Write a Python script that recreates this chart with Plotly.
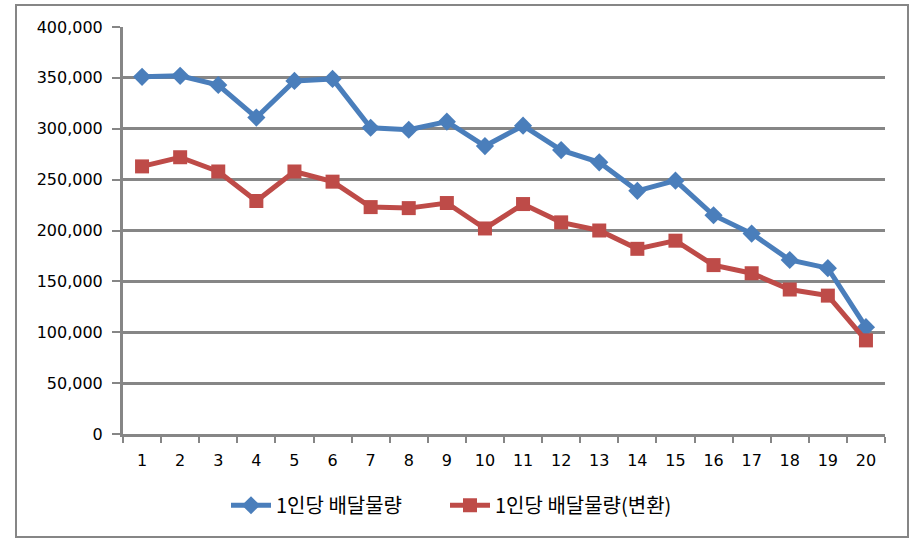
import plotly.graph_objects as go

categories = [str(i) for i in range(1, 21)]
series_a_name = "1인당 배달물량"
series_b_name = "1인당 배달물량(변환)"
series_a = [351000, 352000, 343000, 311000, 347000, 349000, 301000, 299000, 307000, 283000,
            303000, 279000, 267000, 239000, 249000, 215000, 197000, 171000, 163000, 105000]
series_b = [263000, 272000, 258000, 229000, 258000, 248000, 223000, 222000, 227000, 202000,
            226000, 208000, 200000, 182000, 190000, 166000, 158000, 142000, 136000, 92000]
y_ticks = [0, 50000, 100000, 150000, 200000, 250000, 300000, 350000, 400000]

fig = go.Figure()
fig.add_trace(go.Scatter(
    x=categories, y=series_a, name=series_a_name, mode="lines+markers",
    line=dict(color="#4A7EBB", width=5),
    marker=dict(symbol="diamond", size=14, color="#4A7EBB"),
    legend="legend",
))
fig.add_trace(go.Scatter(
    x=categories, y=series_b, name=series_b_name, mode="lines+markers",
    line=dict(color="#BE4B48", width=5),
    marker=dict(symbol="square", size=14, color="#BE4B48"),
    legend="legend2",
))

tick_font = dict(family="DejaVu Sans, sans-serif", size=16, color="#000000")
legend_font = dict(family="Noto Sans CJK KR, sans-serif", size=20, color="#000000")

fig.update_layout(
    width=920, height=553,
    margin=dict(l=123, r=35, t=27, b=119),
    paper_bgcolor="white", plot_bgcolor="white",
    showlegend=True,
    legend=dict(orientation="h", x=(226 - 123) / 762, xanchor="left", y=-0.175, yanchor="middle",
                font=legend_font, itemwidth=40),
    legend2=dict(orientation="h", x=(445 - 123) / 762, xanchor="left", y=-0.175, yanchor="middle",
                 font=legend_font, itemwidth=40),
    xaxis=dict(
        type="category", range=[-0.5, 19.5], showgrid=False,
        showline=True, linecolor="#868686", linewidth=3,
        ticks="outside", tickson="boundaries", ticklen=6, tickwidth=2, tickcolor="#868686",
        tickfont=tick_font, ticklabelstandoff=10,
    ),
    yaxis=dict(
        range=[0, 400000], tickvals=y_ticks, tickformat=",",
        showgrid=True, gridcolor="#868686", gridwidth=3,
        showline=True, linecolor="#868686", linewidth=3,
        ticks="outside", ticklen=8, tickwidth=2, tickcolor="#868686",
        tickfont=tick_font, zeroline=False, ticklabelstandoff=6,
    ),
    shapes=[dict(type="rect", xref="paper", yref="paper",
                 x0=(16 - 123) / 762, x1=(908 - 123) / 762,
                 y0=(434 - 537) / 407, y1=(434 - 5) / 407,
                 line=dict(color="#868686", width=2), layer="below")],
)

fig.write_html("out.html")
